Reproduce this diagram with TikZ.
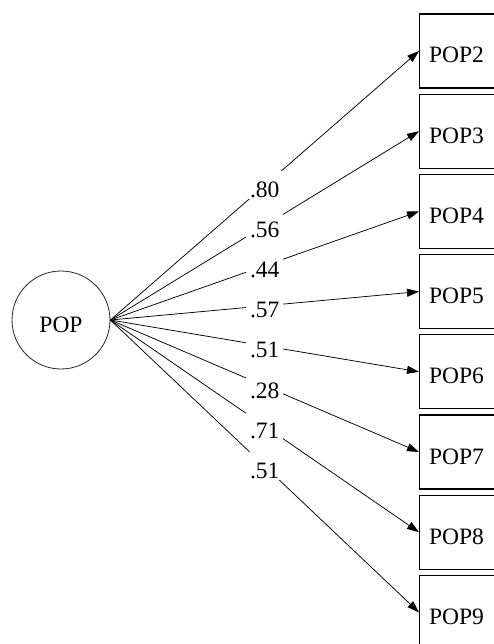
\documentclass[tikz,border=0pt]{standalone}
\usepackage{fontspec}
\setmainfont{Liberation Serif}
\usetikzlibrary{arrows.meta}
\begin{document}
\begin{tikzpicture}[x=1pt,y=-1pt,
  txt/.style={font=\fontsize{23.5}{28}\selectfont, text height=24pt, text depth=0pt},
  latent/.style={circle, draw=black!85, line width=0.8pt, minimum size=98pt, inner sep=0pt, txt},
  obs/.style={rectangle, draw=black, line width=1.1pt, minimum height=74pt, inner sep=0pt, anchor=west, txt},
  path/.style={line width=0.75pt, -{Triangle[length=12pt,width=8pt]}},
  coef/.style={fill=white, inner xsep=4pt, inner ysep=2pt, txt}]
\useasboundingbox (0,0) rectangle (493,644);
\node[latent] (pop) at (61,320) {POP};
\foreach \i/\lab [count=\k from 0] in {2/.80,3/.56,4/.44,5/.57,6/.51,7/.28,8/.71,9/.51}{
  \node[obs] (b\i) at (419, 51+80.2*\k) {\makebox[74pt]{POP\i}\hspace*{8pt}};
  \draw[path] (pop.east) -- node[coef, pos=0.5] (l\i) {\lab} (b\i.west);
}
\end{tikzpicture}
\end{document}
